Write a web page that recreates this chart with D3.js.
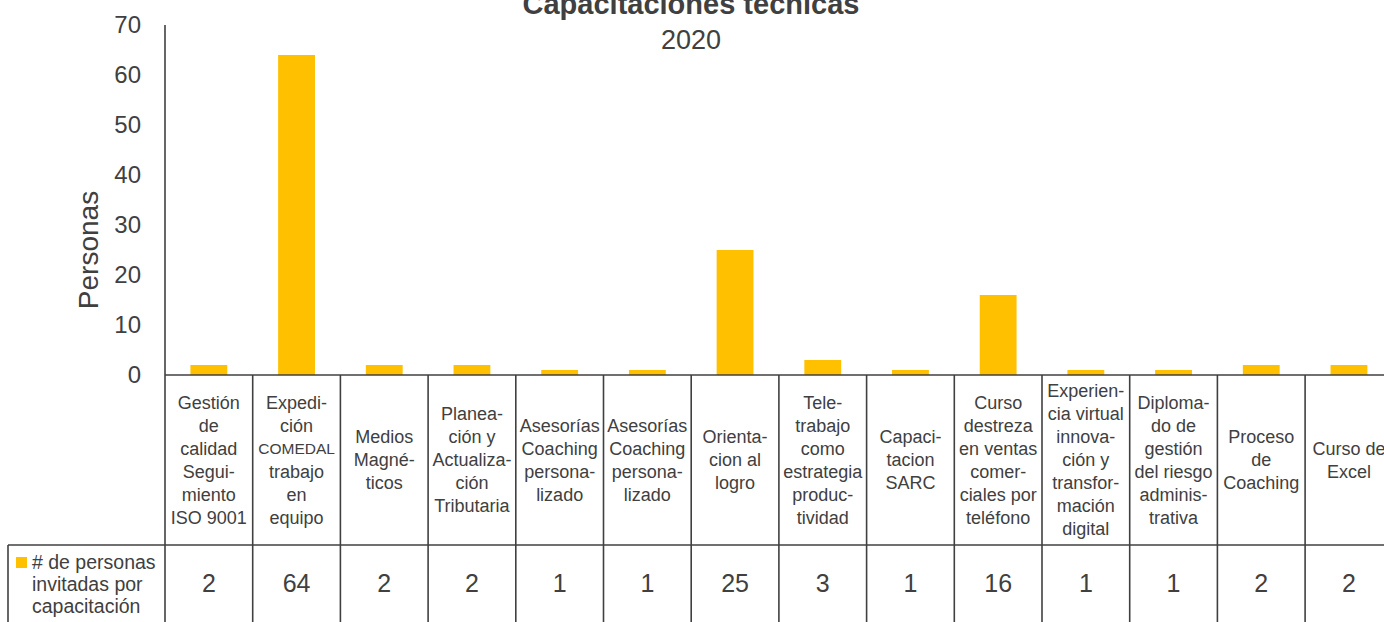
<!DOCTYPE html>
<html>
<head>
<meta charset="utf-8">
<script src="https://cdn.jsdelivr.net/npm/d3@7"></script>
<style>
  html, body { margin: 0; padding: 0; background: #fff; }
  svg { display: block; }
  text { font-family: "Liberation Sans", Arial, Helvetica, sans-serif; fill: #404040; }
</style>
</head>
<body>
<div id="chart"></div>
<script>
// ---- Data ----
const title = "Capacitaciones técnicas";
const subtitle = "2020";
const yLabel = "Personas";
const seriesName = ["# de personas", "invitadas por", "capacitación"];
const categories = [
  "Gestión de calidad Seguimiento ISO 9001",
  "Expedición COMEDAL trabajo en equipo",
  "Medios Magnéticos",
  "Planeación y Actualización Tributaria",
  "Asesorías Coaching personalizado (1)",
  "Asesorías Coaching personalizado (2)",
  "Orientacion al logro",
  "Teletrabajo como estrategia productividad",
  "Capacitacion SARC",
  "Curso destreza en ventas comerciales por teléfono",
  "Experiencia virtual innovación y transformación digital",
  "Diplomado de gestión del riesgo administrativa",
  "Proceso de Coaching",
  "Curso de Excel"
];
const categoryLines = [
  ["Gestión","de","calidad","Segui-","miento","ISO 9001"],
  ["Expedi-","ción","COMEDAL","trabajo","en","equipo"],
  ["Medios","Magné-","ticos"],
  ["Planea-","ción y","Actualiza-","ción","Tributaria"],
  ["Asesorías","Coaching","persona-","lizado"],
  ["Asesorías","Coaching","persona-","lizado"],
  ["Orienta-","cion al","logro"],
  ["Tele-","trabajo","como","estrategia","produc-","tividad"],
  ["Capaci-","tacion","SARC"],
  ["Curso","destreza","en ventas","comer-","ciales por","teléfono"],
  ["Experien-","cia virtual","innova-","ción y","transfor-","mación","digital"],
  ["Diploma-","do de","gestión","del riesgo","adminis-","trativa"],
  ["Proceso","de","Coaching"],
  ["Curso de","Excel"]
];
const values = [2, 64, 2, 2, 1, 1, 25, 3, 1, 16, 1, 1, 2, 2];
const yTicks = [0, 10, 20, 30, 40, 50, 60, 70];

// ---- Layout ----
const W = 1384, H = 622;
const left = 165, colStep = 87.7;
const plotTop = 25, plotBottom = 375;
const labelBottom = 545;
const tableLeft = 8;
const barColor = "#FFC000";
const lineColor = "#404040";

const svg = d3.select("#chart").append("svg").attr("width", W).attr("height", H);

const x = d3.scaleBand().domain(categories)
  .range([left, left + colStep * categories.length]).padding(0);
const y = d3.scaleLinear().domain([0, 70]).range([plotBottom, plotTop]);
const barW = x.bandwidth() * 0.42;

// Title
svg.append("text").attr("x", 691).attr("y", 14).attr("text-anchor", "middle")
  .style("font-size", "29px").style("font-weight", "bold").text(title);
svg.append("text").attr("x", 691).attr("y", 49).attr("text-anchor", "middle")
  .style("font-size", "27px").text(subtitle);

// Y axis
const yAxis = d3.axisLeft(y).tickValues(yTicks).tickSize(0).tickPadding(24);
const gy = svg.append("g").attr("transform", `translate(${left},0)`).call(yAxis);
gy.select(".domain").remove();
gy.selectAll("text").style("font-size", "24px").style("fill", lineColor)
  .style("font-family", '"Liberation Sans", Arial, sans-serif');

svg.append("text").attr("transform", `translate(98,250) rotate(-90)`)
  .attr("text-anchor", "middle").style("font-size", "28px").text(yLabel);

// Bars
svg.append("g").selectAll("rect").data(values).join("rect")
  .attr("x", (d, i) => x(categories[i]) + (x.bandwidth() - barW) / 2)
  .attr("y", d => y(d))
  .attr("width", barW)
  .attr("height", d => y(0) - y(d))
  .attr("fill", barColor);

// Grid lines (axis + table)
const lines = svg.append("g").attr("stroke", lineColor).attr("stroke-width", 1.6);
lines.append("line").attr("x1", left).attr("x2", left).attr("y1", plotTop).attr("y2", H);
lines.append("line").attr("x1", left).attr("x2", W).attr("y1", y(0)).attr("y2", y(0));
lines.append("line").attr("x1", tableLeft).attr("x2", W).attr("y1", labelBottom).attr("y2", labelBottom);
lines.append("line").attr("x1", tableLeft).attr("x2", tableLeft).attr("y1", labelBottom).attr("y2", H);
lines.selectAll(".vcol").data(categories).join("line").attr("class", "vcol")
  .attr("x1", d => x(d) + x.bandwidth()).attr("x2", d => x(d) + x.bandwidth())
  .attr("y1", y(0)).attr("y2", H);

// Category labels
const lh = 23;
const midY = (plotBottom + labelBottom) / 2;
const catG = svg.append("g").selectAll("text").data(categoryLines).join("text")
  .attr("text-anchor", "middle")
  .style("font-size", "18px");
catG.each(function(lns, i) {
  const cx = x(categories[i]) + x.bandwidth() / 2;
  const startY = midY - (lns.length - 1) * lh / 2;
  d3.select(this).selectAll("tspan").data(lns).join("tspan")
    .attr("x", cx)
    .attr("y", (d, j) => startY + j * lh)
    .attr("dy", "0.35em")
    .style("font-size", d => d === "COMEDAL" ? "15.5px" : null)
    .text(d => d);
});

// Data table values
svg.append("g").selectAll("text").data(values).join("text")
  .attr("x", (d, i) => x(categories[i]) + x.bandwidth() / 2)
  .attr("y", 583).attr("dy", "0.35em")
  .attr("text-anchor", "middle").style("font-size", "25px")
  .text(d => d);

// Legend cell
svg.append("rect").attr("x", 16).attr("y", 557).attr("width", 11).attr("height", 11).attr("fill", barColor);
svg.append("g").selectAll("text").data(seriesName).join("text")
  .attr("x", 32).attr("y", (d, i) => 562 + i * 22).attr("dy", "0.35em")
  .style("font-size", "19.5px").text(d => d);
</script>
</body>
</html>
